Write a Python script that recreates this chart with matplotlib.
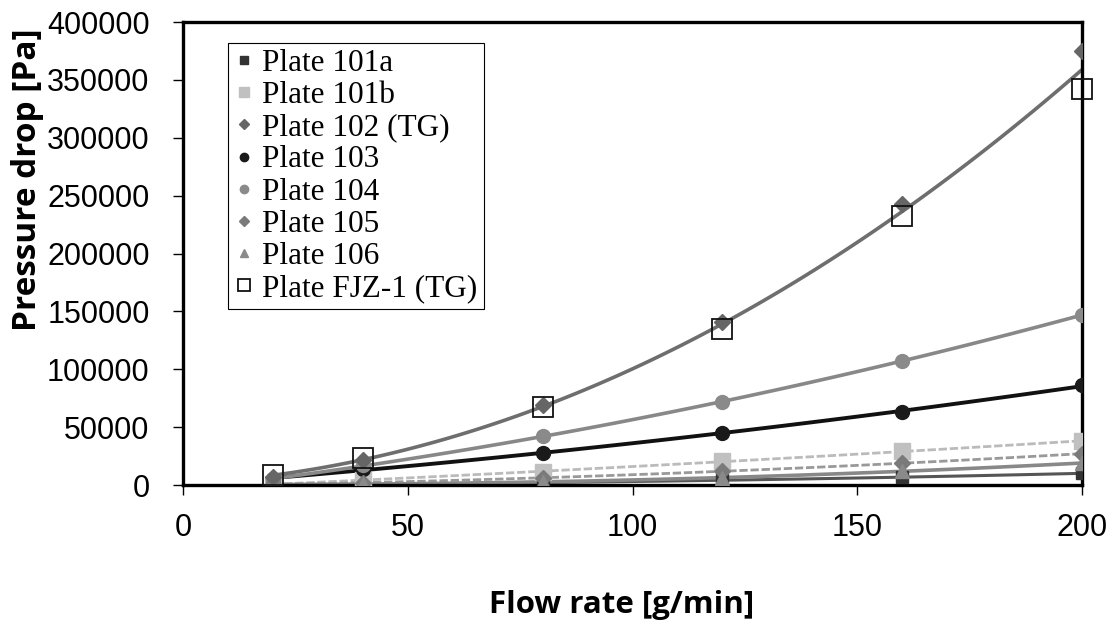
import matplotlib
matplotlib.use("Agg")
import numpy as np
import matplotlib.pyplot as plt

# flow rate [g/min]
flow = np.array([20, 40, 80, 120, 160, 200])

# pressure drop [Pa]
p101a = [200, 800, 2000, 4000, 7000, 10000]
p101b = [1000, 4000, 11000, 21000, 29000, 38000]
p102 = [7000, 22000, 69000, 141000, 243000, 375000]
p103 = [5000, 14000, 28000, 45000, 63000, 86000]
p104 = [5000, 17000, 42000, 72000, 107000, 147000]
p105 = [500, 2000, 6000, 12000, 19000, 27000]
p106 = [300, 1000, 3000, 6000, 12000, 19000]
pfjz = [9000, 23000, 67000, 135000, 232000, 342000]

labels = ['Plate 101a', 'Plate 101b', 'Plate 102 (TG)', 'Plate 103',
          'Plate 104', 'Plate 105', 'Plate 106', 'Plate FJZ-1 (TG)']

fig = plt.figure(figsize=(11.18, 6.33), dpi=100)
ax = fig.add_axes([0.1637, 0.2338, 0.8041, 0.7314])

xf = np.linspace(20, 200, 100)

def trend(y, color, lw, ls='-'):
    c = np.polyfit(flow, y, 2)
    ax.plot(xf, np.polyval(c, xf), color=color, lw=lw, ls=ls, zorder=2)

# trend lines
trend(p101a, '#555555', 2.2)
trend(p101b, '#bbbbbb', 2.0, (0, (3, 1)))
trend(p105, '#999999', 2.0, (0, (3, 1)))
trend(p106, '#888888', 2.6)
trend(p103, '#111111', 2.8)
trend(p104, '#888888', 2.6)
# one fit through both TG plates
tg = np.polyfit(np.concatenate([flow, flow]), np.concatenate([p102, pfjz]), 2)
ax.plot(xf, np.polyval(tg, xf), color='#6e6e6e', lw=2.6, zorder=2)

# markers
ax.plot(flow, p101a, 's', ms=9, color='#333333', label=labels[0], zorder=3)
ax.plot(flow, p101b, 's', ms=11, color='#c0c0c0', label=labels[1], zorder=3)
ax.plot(flow, p102, 'D', ms=8, color='#666666', label=labels[2], zorder=4)
ax.plot(flow, p103, 'o', ms=10, color='#1a1a1a', label=labels[3], zorder=3)
ax.plot(flow, p104, 'o', ms=10, color='#8a8a8a', label=labels[4], zorder=3)
ax.plot(flow, p105, 'D', ms=8, color='#7a7a7a', label=labels[5], zorder=3)
ax.plot(flow, p106, '^', ms=10, color='#8a8a8a', label=labels[6], zorder=3)
ax.plot(flow, pfjz, 's', ms=15, mfc='none', mec='#111111', mew=1.3,
        label=labels[7], zorder=5, clip_on=False)

ax.set_xlim(0, 200)
ax.set_ylim(0, 400000)
ax.set_xticks([0, 50, 100, 150, 200])
ax.set_yticks(np.arange(0, 400001, 50000))

for s in ax.spines.values():
    s.set_linewidth(2.4)
    s.set_color('black')

ax.tick_params(axis='both', direction='out', length=7, width=1, labelsize=22)
ax.tick_params(axis='x', pad=13)
ax.tick_params(axis='y', pad=17)
for t in ax.get_xticklabels() + ax.get_yticklabels():
    t.set_fontfamily('Liberation Sans')

ax.set_xlabel('Flow rate [g/min]', fontsize=22.5, fontweight='bold',
              family='Open Sans')
ax.set_ylabel('Pressure drop [Pa]', fontsize=24, fontweight='bold',
              family='Open Sans')
ax.xaxis.set_label_coords(0.488, -0.227)
ax.yaxis.set_label_coords(-0.155, 0.66)

leg = ax.legend(loc='upper left', bbox_to_anchor=(0.05, 0.955),
                borderaxespad=0, fancybox=False, framealpha=1,
                edgecolor='black', markerscale=0.6, handlelength=0.6,
                handletextpad=0.3, labelspacing=0.1, borderpad=0.2,
                prop={'family': 'Liberation Serif', 'size': 22.5})
leg.get_frame().set_linewidth(0.8)

fig.savefig('out.png', dpi=100)
